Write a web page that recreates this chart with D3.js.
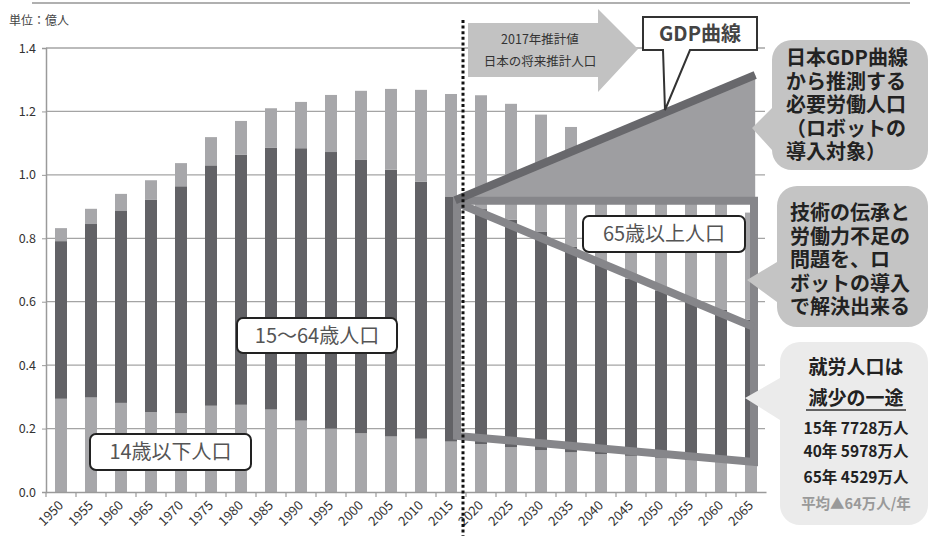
<!DOCTYPE html>
<html>
<head>
<meta charset="utf-8">
<script src="https://cdn.jsdelivr.net/npm/d3@7"></script>
<style>
  body { margin: 0; background: #fff; }
  svg { display: block; }
  text { font-family: "Noto Sans CJK JP", "Noto Sans", sans-serif; }
</style>
</head>
<body>
<svg id="chart" width="930" height="536"></svg>
<script>
// categories
const years = ["1950", "1955", "1960", "1965", "1970", "1975", "1980", "1985", "1990", "1995",
  "2000", "2005", "2010", "2015", "2020", "2025", "2030", "2035", "2040", "2045",
  "2050", "2055", "2060", "2065"];

// population in 億人
const under15 = [0.294, 0.298, 0.281, 0.252, 0.248, 0.272, 0.275, 0.260, 0.225, 0.200,
  0.185, 0.175, 0.168, 0.159, 0.151, 0.141, 0.132, 0.125, 0.119, 0.114,
  0.108, 0.101, 0.095, 0.090];
const age15to64 = [0.497, 0.547, 0.605, 0.669, 0.716, 0.758, 0.788, 0.825, 0.859, 0.872,
  0.862, 0.841, 0.810, 0.773, 0.741, 0.717, 0.688, 0.649, 0.598, 0.558,
  0.528, 0.503, 0.479, 0.453];
const over65 = [0.041, 0.048, 0.054, 0.062, 0.073, 0.089, 0.107, 0.125, 0.146, 0.180,
  0.218, 0.255, 0.290, 0.323, 0.359, 0.366, 0.370, 0.377, 0.392, 0.392,
  0.384, 0.370, 0.354, 0.338];

const yTicks = [0, 0.2, 0.4, 0.6, 0.8, 1.0, 1.2, 1.4];

// annotation geometry, in (year, 億人)
const gdpLine = [[2015.7, 0.92], [2065.7, 1.315]];
const laborFrame = [[2016, 0.918], [2065.5, 0.918], [2065.5, 0.095], [2016, 0.177]];
const seniorLine = [[2016, 0.912], [2065.5, 0.52]];

const svg = d3.select('#chart');

const x = d3.scaleBand()
  .domain(years)
  .range([46, 766])
  .paddingInner(0.6)
  .paddingOuter(0.3);

const y = d3.scaleLinear()
  .domain([0, 1.4])
  .range([492, 48]);

// continuous year scale for the overlays
const xYear = d3.scaleLinear()
  .domain([1950, 2065])
  .range([x('1950') + x.bandwidth() / 2, x('2065') + x.bandwidth() / 2]);

// top rule
svg.append('line')
  .attr('x1', 32).attr('x2', 910)
  .attr('y1', 3).attr('y2', 3)
  .attr('stroke', '#b0b0b0')
  .attr('stroke-width', 2);

svg.append('text')
  .attr('x', 9).attr('y', 25)
  .attr('font-size', 12)
  .attr('fill', '#444')
  .text('単位：億人');

// gridlines
svg.append('g')
  .selectAll('line')
  .data(yTicks.slice(1))
  .join('line')
  .attr('x1', 46).attr('x2', 765)
  .attr('y1', d => y(d)).attr('y2', d => y(d))
  .attr('stroke', '#a4a4a4')
  .attr('stroke-width', 1.3);

// y axis
const yAxis = svg.append('g')
  .attr('transform', 'translate(46,0)')
  .call(d3.axisLeft(y).tickValues(yTicks).tickFormat(d3.format('.1f')).tickSize(4).tickPadding(6));
yAxis.select('.domain').attr('stroke', '#9a9a9a').attr('stroke-width', 1.5);
yAxis.selectAll('.tick line').attr('stroke', '#9a9a9a');
yAxis.selectAll('text')
  .attr('font-family', '"DejaVu Sans", sans-serif')
  .attr('font-size', 12.5)
  .attr('fill', '#333');

// stacked bars
const table = years.map((yr, i) => ({ year: yr, a: under15[i], b: age15to64[i], c: over65[i] }));
const stack = d3.stack().keys(['a', 'b', 'c'])(table);
const colors = { a: '#a7a7aa', b: '#626266', c: '#a7a7aa' };

svg.append('g')
  .selectAll('g')
  .data(stack)
  .join('g')
  .attr('fill', d => colors[d.key])
  .selectAll('rect')
  .data(d => d)
  .join('rect')
  .attr('x', d => x(d.data.year))
  .attr('width', x.bandwidth())
  .attr('y', d => y(d[1]))
  .attr('height', d => y(d[0]) - y(d[1]));

// x axis
const xAxis = svg.append('g')
  .attr('transform', 'translate(0,492)')
  .call(d3.axisBottom(x).tickSize(0).tickFormat(''));
xAxis.select('.domain').attr('stroke', '#9a9a9a').attr('stroke-width', 1.5);

svg.append('g')
  .selectAll('line')
  .data(years)
  .join('line')
  .attr('x1', d => x(d) - x.step() * 0.3)
  .attr('x2', d => x(d) - x.step() * 0.3)
  .attr('y1', 492).attr('y2', 497)
  .attr('stroke', '#9a9a9a')
  .attr('stroke-width', 1.2);

svg.append('g')
  .selectAll('text')
  .data(years)
  .join('text')
  .attr('transform', d => `translate(${x(d) + x.bandwidth() / 2},503) rotate(-45)`)
  .attr('text-anchor', 'end')
  .attr('dy', '0.35em')
  .attr('font-family', '"DejaVu Sans", sans-serif')
  .attr('font-size', 13)
  .attr('fill', '#333')
  .text(d => d);

// GDP triangle
const pt = d => [xYear(d[0]), y(d[1])];
svg.append('path')
  .attr('d', d3.line()([pt(gdpLine[0]), pt(gdpLine[1]), pt([gdpLine[1][0], gdpLine[0][1]])]) + 'Z')
  .attr('fill', '#9e9ea1');

// labour frame
svg.append('path')
  .attr('d', d3.line()(laborFrame.map(pt)) + 'Z')
  .attr('fill', 'none')
  .attr('stroke', '#86868a')
  .attr('stroke-width', 8)
  .attr('stroke-linejoin', 'miter');

svg.append('path')
  .attr('d', d3.line()(seniorLine.map(pt)))
  .attr('stroke', '#86868a')
  .attr('stroke-width', 8);

svg.append('path')
  .attr('d', d3.line()(gdpLine.map(pt)))
  .attr('stroke', '#68686c')
  .attr('stroke-width', 8);

// forecast arrow
svg.append('path')
  .attr('d', 'M468,23 H598 V9 L638,49 L598,92 V77 H468 Z')
  .attr('fill', '#c2c2c2');
svg.append('text')
  .attr('x', 540).attr('y', 44)
  .attr('text-anchor', 'middle')
  .attr('font-size', 12.5)
  .attr('fill', '#333')
  .text('2017年推計値');
svg.append('text')
  .attr('x', 540).attr('y', 66)
  .attr('text-anchor', 'middle')
  .attr('font-size', 12.5)
  .attr('fill', '#333')
  .text('日本の将来推計人口');

// dotted divider
svg.append('line')
  .attr('x1', 463).attr('x2', 463)
  .attr('y1', 20).attr('y2', 536)
  .attr('stroke', '#111')
  .attr('stroke-width', 3)
  .attr('stroke-dasharray', '3,2.6');

// GDP label box with tail
svg.append('path')
  .attr('d', 'M643,17 H757 V50 H690 L665,110 L663,50 H643 Z')
  .attr('fill', '#fff')
  .attr('stroke', '#333')
  .attr('stroke-width', 2)
  .attr('stroke-linejoin', 'miter');
svg.append('text')
  .attr('x', 700).attr('y', 41)
  .attr('text-anchor', 'middle')
  .attr('font-size', 20)
  .attr('font-weight', 'bold')
  .attr('fill', '#444')
  .text('GDP曲線');

// series label boxes
const labels = [
  { text: '15～64歳人口', x: 237, y: 318, w: 160, h: 35 },
  { text: '14歳以下人口', x: 90, y: 434, w: 161, h: 36 },
  { text: '65歳以上人口', x: 583, y: 216, w: 162, h: 36 }
];
const lg = svg.append('g').selectAll('g').data(labels).join('g');
lg.append('rect')
  .attr('x', d => d.x).attr('y', d => d.y)
  .attr('width', d => d.w).attr('height', d => d.h)
  .attr('rx', 6)
  .attr('fill', '#fff')
  .attr('stroke', '#222')
  .attr('stroke-width', 2);
lg.append('text')
  .attr('x', d => d.x + d.w / 2)
  .attr('y', d => d.y + d.h / 2)
  .attr('dy', '0.36em')
  .attr('text-anchor', 'middle')
  .attr('font-size', 20)
  .attr('fill', '#555')
  .text(d => d.text);

// speech bubbles
function bubble(x0, y0, w, h, r, tipX, tipY, b1, b2) {
  return `M${x0 + r},${y0} H${x0 + w - r} A${r},${r} 0 0 1 ${x0 + w},${y0 + r}` +
    ` V${y0 + h - r} A${r},${r} 0 0 1 ${x0 + w - r},${y0 + h}` +
    ` H${x0 + r} A${r},${r} 0 0 1 ${x0},${y0 + h - r}` +
    ` V${b2} L${tipX},${tipY} L${x0},${b1} V${y0 + r} A${r},${r} 0 0 1 ${x0 + r},${y0} Z`;
}

svg.append('path')
  .attr('d', bubble(772, 40, 156, 130, 20, 752, 128, 108, 150))
  .attr('fill', '#c4c4c4');
svg.append('path')
  .attr('d', bubble(777, 186, 151, 141, 20, 747, 280, 262, 302))
  .attr('fill', '#c4c4c4');
svg.append('path')
  .attr('d', bubble(780, 342, 148, 183, 20, 745, 398, 378, 420))
  .attr('fill', '#ebebeb');

// multi-line notes: one text element each, lines as tspans
function note(lines, x0, y0, step) {
  svg.append('text')
    .attr('x', x0).attr('y', y0)
    .attr('font-size', 20)
    .attr('font-weight', 'bold')
    .attr('fill', '#222')
    .selectAll('tspan')
    .data(lines)
    .join('tspan')
    .attr('x', x0)
    .attr('dy', (d, i) => i === 0 ? 0 : step)
    .text(d => d);
}

note(['日本GDP曲線', 'から推測する', '必要労働人口', '（ロボットの', '導入対象）'], 786, 65, 23.5);
note(['技術の伝承と', '労働力不足の', '問題を、ロ', 'ボットの導入', 'で解決出来る'], 790, 220, 23.5);

const note3 = [
  { t: '就労人口は', dy: 0, s: 19, c: '#222' },
  { t: '減少の一途', dy: 31, s: 19, c: '#222' },
  { t: '15年 7728万人', dy: 29, s: 15.5, c: '#222' },
  { t: '40年 5978万人', dy: 23, s: 15.5, c: '#222' },
  { t: '65年 4529万人', dy: 26, s: 15.5, c: '#222' },
  { t: '平均▲64万人/年', dy: 26, s: 14.5, c: '#999' }
];
svg.append('text')
  .attr('x', 856).attr('y', 374)
  .attr('text-anchor', 'middle')
  .attr('font-weight', 'bold')
  .selectAll('tspan')
  .data(note3)
  .join('tspan')
  .attr('x', 856)
  .attr('dy', d => d.dy)
  .attr('font-size', d => d.s)
  .attr('fill', d => d.c)
  .text(d => d.t);

svg.append('line')
  .attr('x1', 806).attr('x2', 906)
  .attr('y1', 410).attr('y2', 410)
  .attr('stroke', '#333')
  .attr('stroke-width', 1.5);
</script>
</body>
</html>
